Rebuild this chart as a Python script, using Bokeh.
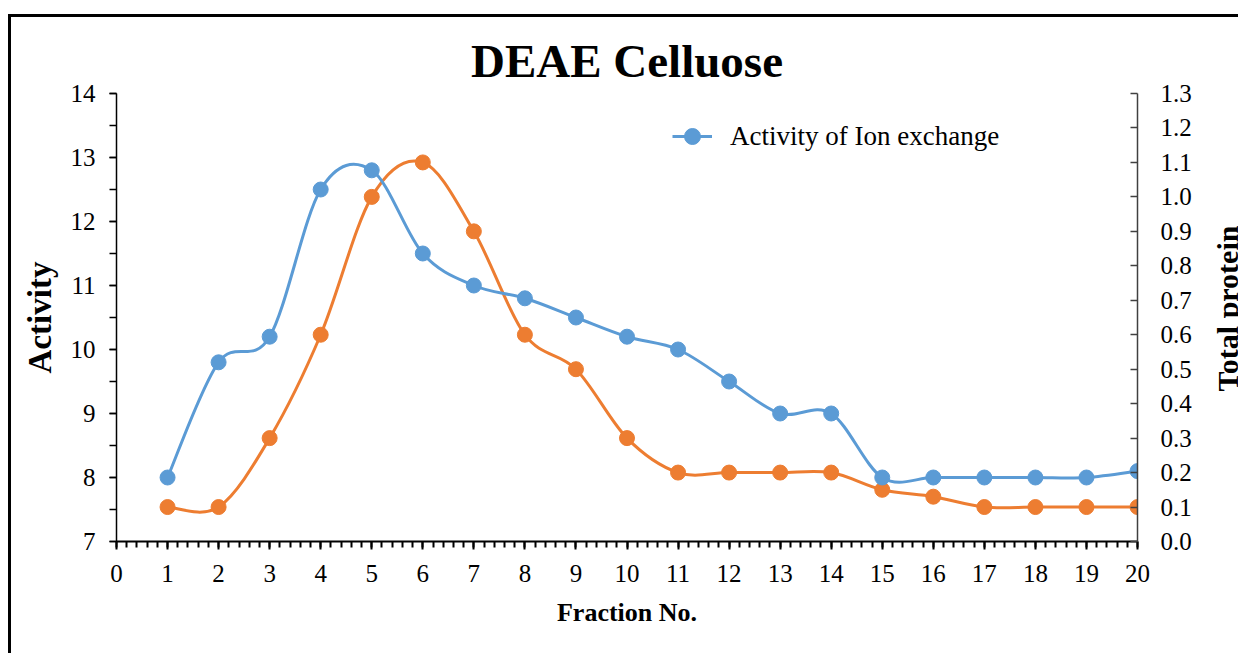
import math
from bokeh.plotting import figure
from bokeh.models import (Range1d, LinearAxis, FixedTicker, SingleIntervalTicker,
                          NumeralTickFormatter, Legend, LegendItem, ColumnDataSource, Label)
from bokeh.embed import file_html
from bokeh.resources import INLINE

# ---- data ----
fractions = list(range(1, 21))
activity = [8.0, 9.8, 10.2, 12.5, 12.8, 11.5, 11.0, 10.8, 10.5, 10.2,
            10.0, 9.5, 9.0, 9.0, 8.0, 8.0, 8.0, 8.0, 8.0, 8.1]
protein = [0.1, 0.1, 0.3, 0.6, 1.0, 1.1, 0.9, 0.6, 0.5, 0.3,
           0.2, 0.2, 0.2, 0.2, 0.15, 0.13, 0.1, 0.1, 0.1, 0.1]
right_ticks = [0.0, 0.1, 0.2, 0.3, 0.4, 0.5, 0.6, 0.7, 0.8, 0.9, 1.0, 1.1, 1.2, 1.3]

BLUE = "#5B9BD5"
ORANGE = "#ED7D31"
FONT = "Liberation Serif"


def smooth_segments(xs, ys):
    """Catmull-Rom style cubic Bezier control points (Excel-like smoothing)."""
    n = len(xs)
    d = dict(x0=[], y0=[], x1=[], y1=[], cx0=[], cy0=[], cx1=[], cy1=[])
    for i in range(n - 1):
        xm, ym = (xs[i - 1], ys[i - 1]) if i > 0 else (xs[i], ys[i])
        xp, yp = (xs[i + 2], ys[i + 2]) if i + 2 < n else (xs[i + 1], ys[i + 1])
        d["x0"].append(xs[i]); d["y0"].append(ys[i])
        d["x1"].append(xs[i + 1]); d["y1"].append(ys[i + 1])
        d["cx0"].append(xs[i] + (xs[i + 1] - xm) / 6.0)
        d["cy0"].append(ys[i] + (ys[i + 1] - ym) / 6.0)
        d["cx1"].append(xs[i + 1] - (xp - xs[i]) / 6.0)
        d["cy1"].append(ys[i + 1] - (yp - ys[i]) / 6.0)
    return ColumnDataSource(d)


p = figure(width=1230, height=639, x_range=Range1d(0, 20), y_range=Range1d(7, 14),
           output_backend="svg", toolbar_location=None,
           min_border_left=105, min_border_right=104,
           min_border_top=76, min_border_bottom=115)
# outer picture frame: left and top edges visible in the reference
p.styles = {"margin-left": "8px", "margin-top": "14px",
            "border-left": "3px solid black", "border-top": "3px solid black"}
p.extra_y_ranges = {"right": Range1d(0, 1.3)}
p.grid.visible = False
p.outline_line_color = None
p.background_fill_color = "white"
p.border_fill_color = "white"

# title
p.title.text = "DEAE Celluose"
p.title.align = "center"
p.title.text_font = FONT
p.title.text_font_size = "47px"
p.title.text_font_style = "bold"
p.title.text_color = "black"
p.title.standoff = 14

# x axis
xa = p.xaxis[0]
xa.ticker = SingleIntervalTicker(interval=1, num_minor_ticks=5)
xa.axis_label = "Fraction No."
xa.axis_line_width = 2
xa.axis_line_color = "black"
xa.major_tick_in = 0
xa.major_tick_out = 8
xa.minor_tick_in = 0
xa.minor_tick_out = 6
xa.major_tick_line_width = 2
xa.minor_tick_line_width = 2
xa.major_tick_line_color = "black"
xa.minor_tick_line_color = "black"
xa.major_label_standoff = 15
xa.axis_label_standoff = 13

# left axis
ya = p.yaxis[0]
ya.ticker = SingleIntervalTicker(interval=1, num_minor_ticks=2)
ya.axis_label = "Activity"
ya.axis_line_width = 1.5
ya.axis_line_color = "black"
ya.major_tick_in = 0
ya.major_tick_out = 7
ya.minor_tick_in = 0
ya.minor_tick_out = 7
ya.major_tick_line_width = 1.5
ya.minor_tick_line_width = 1.5
ya.major_tick_line_color = "black"
ya.minor_tick_line_color = "black"
ya.major_label_standoff = 14
ya.axis_label_standoff = 10

# right axis
ra = LinearAxis(y_range_name="right",
                ticker=FixedTicker(ticks=right_ticks),
                formatter=NumeralTickFormatter(format="0.0"))
ra.axis_line_width = 1.5
ra.axis_line_color = "#404040"
ra.major_tick_in = 7
ra.major_tick_out = 0
ra.minor_tick_line_color = None
ra.major_tick_line_width = 1.5
ra.major_tick_line_color = "#404040"
ra.major_label_standoff = 23
p.add_layout(ra, "right")

for ax in (xa, ya, ra):
    ax.major_label_text_font = FONT
    ax.major_label_text_font_size = "25px"
    ax.major_label_text_color = "black"
    ax.axis_label_text_font = FONT
    ax.axis_label_text_font_style = "bold"
    ax.axis_label_text_color = "black"
xa.axis_label_text_font_size = "26px"
ya.axis_label_text_font_size = "33px"

# right-hand axis title, in its own side panel next to the right axis
p.add_layout(Label(x=33, y=233, x_units="screen", y_units="screen",
                   text="Total protein", angle=math.pi / 2,
                   text_align="center", text_baseline="alphabetic",
                   text_font=FONT, text_font_size="30px", text_font_style="bold",
                   text_color="black"), "right")

# series
src_o = ColumnDataSource(dict(x=fractions, y=protein))
src_b = ColumnDataSource(dict(x=fractions, y=activity))

p.bezier(x0="x0", y0="y0", x1="x1", y1="y1", cx0="cx0", cy0="cy0", cx1="cx1", cy1="cy1",
         source=smooth_segments(fractions, protein), line_color=ORANGE, line_width=3,
         y_range_name="right")
p.scatter("x", "y", source=src_o, size=15, fill_color=ORANGE, line_color=ORANGE,
          y_range_name="right")

bl = p.bezier(x0="x0", y0="y0", x1="x1", y1="y1", cx0="cx0", cy0="cy0", cx1="cx1", cy1="cy1",
              source=smooth_segments(fractions, activity), line_color=BLUE, line_width=3)
bm = p.scatter("x", "y", source=src_b, size=15, fill_color=BLUE, line_color=BLUE)

legend = Legend(items=[LegendItem(label="Activity of Ion exchange", renderers=[bl, bm])],
                location=(556, 385), padding=0, margin=0, spacing=0,
                glyph_width=40, glyph_height=40, label_standoff=18,
                border_line_color=None, background_fill_alpha=0,
                label_text_font=FONT, label_text_font_size="27px",
                label_text_color="black")
p.add_layout(legend, "center")

open("out.html", "w").write(file_html(p, INLINE))
